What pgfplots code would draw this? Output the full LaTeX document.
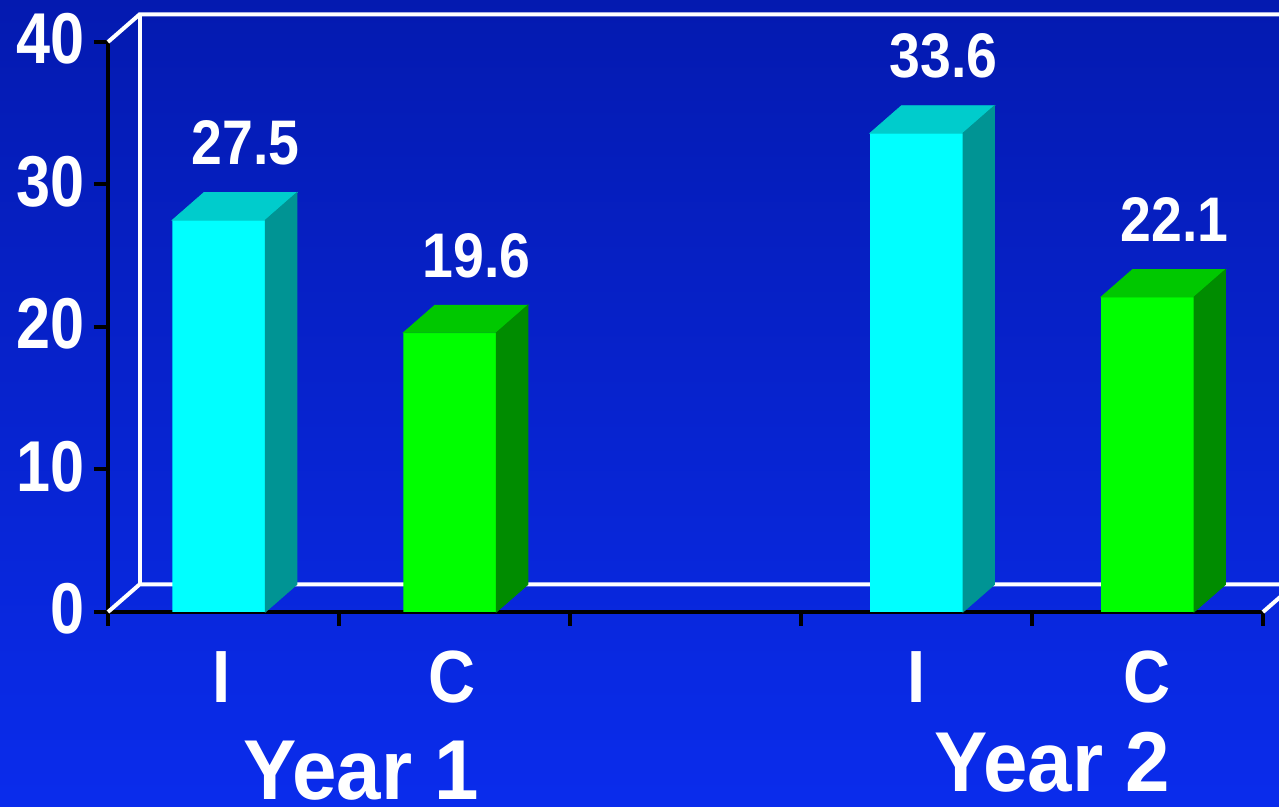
\documentclass[border=0pt]{standalone}
\usepackage{pgfplots}
\pgfplotsset{compat=1.18}
\usepackage{pgfplotstable}
\usepackage{fontspec}
\setmainfont{Liberation Sans}[FakeStretch=0.88]
\newfontfamily\yearfont{Liberation Sans}[FakeStretch=0.94]
\newfontfamily\tickfont{Liberation Sans}[FakeStretch=0.85]

\definecolor{bgtop}{RGB}{4,26,176}
\definecolor{bgbottom}{RGB}{10,44,236}
\definecolor{iFront}{RGB}{0,255,255}
\definecolor{iTop}{RGB}{0,204,204}
\definecolor{iSide}{RGB}{0,148,148}
\definecolor{cFront}{RGB}{0,255,0}
\definecolor{cTop}{RGB}{0,200,0}
\definecolor{cSide}{RGB}{0,140,0}

% I = intervention, C = control
\pgfplotstableread{
x y
0.48 27.5
3.50 33.6
}\interv
\pgfplotstableread{
x y
1.48 19.6
4.50 22.1
}\contr

% bar geometry: half front width, depth offsets, length of one y unit (pt)
\def\hw{23.25pt}
\def\dx{15.75pt}
\def\dy{13.75pt}
\def\yu{7.125}

\pgfdeclareplotmark{nothing}{}

\pgfplotsset{
  front/.style={ybar, bar shift=0pt, bar width=46.5pt, fill=#1, draw=none,
    nodes near coords={\pgfmathprintnumber[fixed,fixed zerofill,precision=1,assume math mode=true]{\pgfplotspointmeta}},
    every node near coord/.style={anchor=base, xshift=13.5pt, yshift=27.75pt,
      text=white, inner sep=0pt, font=\fontsize{31.5}{31.5}\selectfont\bfseries}},
  depth/.style 2 args={scatter, only marks, mark=nothing, point meta=y,
    visualization depends on={\thisrow{y} \as \val},
    scatter/@pre marker code/.code={
      \pgfmathsetlengthmacro\h{\val*\yu}
      \fill[#1] (-\hw,0pt) -- (\hw,0pt) -- (\hw+\dx,\dy) -- (-\hw+\dx,\dy) -- cycle;
      \fill[#2] (\hw,0pt) -- (\hw+\dx,\dy) -- (\hw+\dx,\dy-\h) -- (\hw,-\h) -- cycle;
    },
    scatter/@post marker code/.code={}},
}
\tikzset{
  catlabel/.style={anchor=base, text=white, inner sep=0pt, font=\fontsize{37}{37}\selectfont\bfseries},
  yearlabel/.style={anchor=base, text=white, inner sep=0pt, font=\fontsize{42.5}{42.5}\yearfont\bfseries},
}

\begin{document}
\begin{tikzpicture}
\useasboundingbox (0,0) rectangle (639.5pt,403.5pt);
\clip (0,0) rectangle (639.5pt,403.5pt);
\shade[top color=bgtop, bottom color=bgbottom] (0,0) rectangle (639.5pt,403.5pt);
\begin{axis}[
  at={(54pt,97.5pt)}, anchor=origin,
  x=115.5pt, y=7.125pt,
  xmin=0, xmax=5, ymin=0, ymax=40,
  clip=false,
  axis x line=bottom, axis y line=left,
  axis line style={-, line width=2pt, black},
  xtick={0,1,...,5}, xticklabels={},
  ytick={0,10,...,40},
  tick align=outside,
  major tick length=7pt,
  every tick/.style={line width=2pt, black},
  /pgf/number format/assume math mode=true,
  yticklabel style={anchor=east, inner sep=0pt, xshift=-4.5pt, yshift=1.5pt,
    text=white, font=\fontsize{36}{36}\tickfont\bfseries},
]
% back wall and floor
\draw[white, line width=2pt]
  (axis cs:0,40) -- ([xshift=\dx,yshift=\dy]axis cs:0,40) -- ([xshift=\dx,yshift=\dy]axis cs:5.2,40);
\draw[white, line width=2pt]
  ([xshift=\dx,yshift=\dy]axis cs:0,40) -- ([xshift=\dx,yshift=\dy]axis cs:0,0);
\draw[white, line width=2pt]
  (axis cs:0,0) -- ([xshift=\dx,yshift=\dy]axis cs:0,0) -- ([xshift=\dx,yshift=\dy]axis cs:5.2,0);
\draw[white, line width=2pt]
  (axis cs:5,0) -- ([xshift=\dx,yshift=\dy]axis cs:5,0);

\addplot[depth={iTop}{iSide}] table {\interv};
\addplot[depth={cTop}{cSide}] table {\contr};
\addplot[front=iFront] table {\interv};
\addplot[front=cFront] table {\contr};

% category labels
\node[catlabel] at ([yshift=-45.5pt]axis cs:0.49,0) {I};
\node[catlabel] at ([yshift=-45.5pt]axis cs:1.49,0) {C};
\node[catlabel] at ([yshift=-45.5pt]axis cs:3.50,0) {I};
\node[catlabel] at ([yshift=-45.5pt]axis cs:4.50,0) {C};
\node[yearlabel] at ([yshift=-94pt]axis cs:1.097,0) {Year 1};
\node[yearlabel] at ([yshift=-90pt]axis cs:4.087,0) {Year 2};
\end{axis}
\end{tikzpicture}
\end{document}
